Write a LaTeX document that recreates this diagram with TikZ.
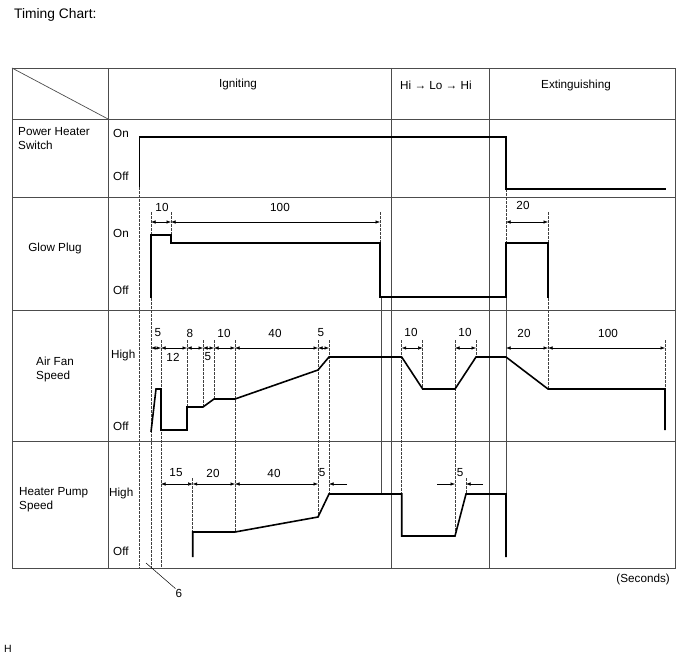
\documentclass[tikz,border=0pt]{standalone}
\usepackage{fontspec}
\setmainfont{Liberation Sans}
\usetikzlibrary{arrows.meta}

\begin{document}
\begin{tikzpicture}[x=1pt,y=-1pt,>={Latex[length=4.5pt,width=3.4pt]},
 txt/.style={font=\fontsize{11.7}{14}\selectfont,inner sep=0pt},
 grid/.style={draw=black!70,line width=0.7pt},
 sig/.style={line width=1.6pt},
 guide/.style={dash pattern=on 2.5pt off 1.5pt,line width=0.5pt,black!75},
 dim/.style={<->,line width=0.5pt}]
 \useasboundingbox (0,0) rectangle (688,658);

 \node[txt,anchor=west,font=\fontsize{13.8}{16}\selectfont] (title) at (14,15) {Timing Chart:};

 % table
 \draw[grid] (12,68) rectangle (675,568);
 \draw[grid] (12,119) -- (675,119) (12,197) -- (675,197) (12,310) -- (675,310) (12,441) -- (675,441);
 \draw[grid] (108,68) -- (108,568) (391,68) -- (391,568) (489,68) -- (489,568);
 \draw[grid] (12,68) -- (108,119);
 \draw[grid] (381,297) -- (381,494) (506,297) -- (506,557);

 \node[txt] (igniting) at (238,84) {Igniting};
 \node[txt] (hilo) at (436,85) {Hi → Lo → Hi};
 \node[txt] (extinguishing) at (576,85) {Extinguishing};

 \node[txt,anchor=west,align=left] (heatersw) at (18,139) {Power Heater\\Switch};
 \node[txt] (glowplug) at (55,248) {Glow Plug};
 \node[txt,anchor=west,align=left] (airfan) at (36,369) {Air Fan\\Speed};
 \node[txt,anchor=west,align=left] (pumpspeed) at (19,500) {Heater Pump\\Speed};

 \node[txt,anchor=west] (swon) at (113,133) {On};
 \node[txt,anchor=west] (swoff) at (113,176) {Off};
 \node[txt,anchor=west] (glowon) at (113,233) {On};
 \node[txt,anchor=west] (glowoff) at (113,290) {Off};
 \node[txt,anchor=west] (fanhigh) at (111,355) {High};
 \node[txt,anchor=west] (fanoff) at (113,426) {Off};
 \node[txt,anchor=west] (pumphigh) at (109,493) {High};
 \node[txt,anchor=west] (pumpoff) at (113,551) {Off};

 % guides
 \foreach \x/\ya/\yb in {139.5/187/568, 151/212/235, 151/298/568, 161/340/568, 171/212/235,
   187/340/407, 203/340/407, 214/340/399, 235/340/532, 318/340/517, 329/340/494,
   380/212/243, 401.7/340/494, 422.7/340/389, 455/340/536, 476/340/357, 466/478/494,
   192.7/478/532, 506/189/243, 548/212/243, 548/298/389, 665/340/389}
   \draw[guide] (\x,\ya) -- (\x,\yb);

 % signals
 \draw[sig] (139.5,187) |- (506,137) |- (666,189);
 \draw[sig] (151,298) |- (171,235) |- (380,243) |- (506,297) |- (548,243) -- (548,298);
 \draw[sig] (151,432) -- (156,389) -- (161,389) |- (187,430) |- (203,407) -- (214,399)
   -- (235,399) -- (318,370) -- (329,357) -- (401.7,357) -- (422.7,389) -- (455,389)
   -- (476,357) -- (506,357) -- (548,389) -- (665,389) -- (665,430);
 \draw[sig] (192.7,557) |- (235,532) -- (318,517) -- (329,494) -- (401.7,494) |- (455,536)
   -- (466,494) -- (506,494) -- (506,557);

 % dimensions
 \foreach \xa/\xb/\y in {151/171/222, 171/380/222, 506/548/222,
   151/161/348, 161/187/348, 187/203/348, 203/214/348, 214/235/348, 235/318/348, 318/329/348,
   401.7/422.7/348, 455/476/348, 506/548/348, 548/665/348,
   161/192.7/484, 192.7/235/484, 235/318/484}
   \draw[dim] (\xa,\y) -- (\xb,\y);
 \draw[->,line width=0.5pt] (347,484) -- (329,484);
 \draw[->,line width=0.5pt] (437,484) -- (455,484);
 \draw[->,line width=0.5pt] (483,484) -- (466,484);

 \foreach \x/\y/\t [count=\i] in {162/207/10, 280/207/100, 523/205/20,
   158/333/5, 190/333/8, 224/333/10, 275/333/40, 321/333/5, 173/357/12, 208/357/5,
   411/332/10, 465/332/10, 524/333/20, 608/333/100,
   176/473/15, 213/473/20, 274/473/40, 322/473/5, 460/473/5}
   \node[txt] (num\i) at (\x,\y) {\t};

 \coordinate (lead) at (146,563);
 \node[txt] (six) at (179,593) {6};
 \draw[line width=0.5pt] (lead) -- (six.north west);

 \node[txt,anchor=east] (seconds) at (670,579) {(Seconds)};
 \node[txt,anchor=west,font=\fontsize{10.5}{12}\selectfont] (hmark) at (4,649) {H};
\end{tikzpicture}
\end{document}
